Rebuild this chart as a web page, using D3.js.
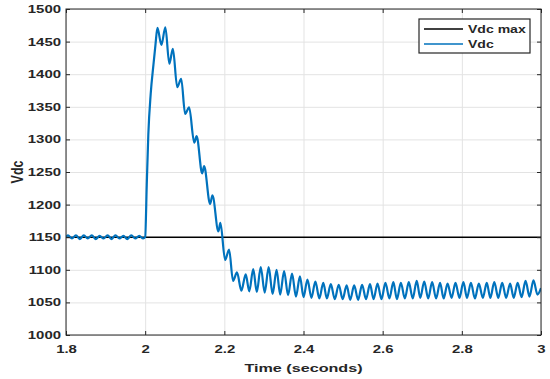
<!DOCTYPE html>
<html>
<head>
<meta charset="utf-8">
<script src="https://cdn.jsdelivr.net/npm/d3@7"></script>
<style>
  body { margin: 0; background: #fff; }
  text { font-family: "Liberation Sans", Arial, sans-serif; font-weight: bold; fill: #262626; }
</style>
</head>
<body>
<svg id="chart" width="550" height="379"></svg>
<script>

// axis ticks
var xTicks = [1.8, 2, 2.2, 2.4, 2.6, 2.8, 3];
var yTicks = [1000, 1050, 1100, 1150, 1200, 1250, 1300, 1350, 1400, 1450, 1500];
var xLabel = "Time (seconds)";
var yLabel = "Vdc";
var legendLabels = ["Vdc max", "Vdc"];

// limit line
var vdcMax = 1150;

// Vdc, [time, value] at the turning points
var rippleBefore = [
  [1.800, 1150], [1.805, 1153], [1.815, 1148], [1.825, 1153], [1.835, 1147],
  [1.845, 1153], [1.855, 1148], [1.865, 1153], [1.875, 1147], [1.885, 1152],
  [1.895, 1148], [1.905, 1153], [1.915, 1147], [1.925, 1153], [1.935, 1148],
  [1.945, 1152], [1.955, 1147], [1.965, 1153], [1.975, 1148], [1.985, 1152],
  [1.995, 1148]
];

var surge = [
  [2.000, 1150], [2.004, 1230], [2.008, 1308], [2.014, 1370], [2.021, 1415],
  [2.026, 1445], [2.031, 1471], [2.041, 1445], [2.051, 1472], [2.061, 1416],
  [2.070, 1439], [2.081, 1380], [2.091, 1393], [2.101, 1339], [2.111, 1349],
  [2.124, 1295], [2.130, 1305], [2.144, 1248], [2.149, 1259], [2.164, 1201],
  [2.170, 1214], [2.185, 1159], [2.190, 1172]
];

var settle = [
  [2.202, 1115], [2.212, 1131], [2.222, 1083], [2.232, 1096], [2.243, 1068],
  [2.254, 1093], [2.263, 1067], [2.273, 1101], [2.282, 1066], [2.292, 1104],
  [2.302, 1065], [2.312, 1104], [2.322, 1063], [2.332, 1100], [2.341, 1062],
  [2.351, 1098], [2.361, 1061], [2.371, 1094], [2.381, 1059], [2.391, 1090],
  [2.400, 1058], [2.410, 1085], [2.420, 1057], [2.430, 1082], [2.440, 1056],
  [2.450, 1080], [2.459, 1056], [2.469, 1078], [2.479, 1055], [2.489, 1077],
  [2.499, 1055], [2.509, 1076], [2.518, 1054], [2.528, 1076], [2.538, 1054],
  [2.548, 1077], [2.558, 1055], [2.568, 1078], [2.577, 1055], [2.587, 1079],
  [2.597, 1055], [2.607, 1080], [2.617, 1056], [2.627, 1081], [2.636, 1055],
  [2.646, 1080], [2.656, 1056], [2.666, 1081], [2.676, 1056], [2.686, 1083],
  [2.695, 1057], [2.705, 1082], [2.715, 1056], [2.725, 1081], [2.735, 1056],
  [2.745, 1080], [2.754, 1056], [2.764, 1079], [2.774, 1057], [2.784, 1080],
  [2.794, 1057], [2.804, 1081], [2.813, 1057], [2.823, 1080], [2.833, 1056],
  [2.843, 1079], [2.853, 1057], [2.863, 1080], [2.872, 1057], [2.882, 1081],
  [2.892, 1057], [2.902, 1080], [2.912, 1057], [2.922, 1079], [2.931, 1057],
  [2.941, 1080], [2.951, 1058], [2.961, 1083], [2.971, 1059], [2.981, 1084],
  [2.991, 1062], [3.000, 1072]
];

var vdc = rippleBefore.concat(surge, settle);

// the picture is stretched sideways, so text gets the same stretch
var sx = 1.37;
var axisColor = "#262626";

var margin = {top: 9, right: 9, bottom: 44, left: 66},
    fullWidth = 550, fullHeight = 379,
    width = fullWidth - margin.left - margin.right,
    height = fullHeight - margin.top - margin.bottom;

var x = d3.scaleLinear().domain([1.8, 3]).range([0, width]);
var y = d3.scaleLinear().domain([1000, 1500]).range([height, 0]);

var svg = d3.select("#chart")
    .append("g")
    .attr("transform", "translate(" + margin.left + "," + margin.top + ")");

svg.append("rect")
    .attr("width", width)
    .attr("height", height)
    .attr("fill", "#fff");

// grid
svg.append("g")
    .attr("class", "grid")
    .attr("transform", "translate(0," + height + ")")
    .call(d3.axisBottom(x).tickValues(xTicks).tickSize(-height).tickFormat(""))
    .call(function (g) { g.select(".domain").remove(); });

svg.append("g")
    .attr("class", "grid")
    .call(d3.axisLeft(y).tickValues(yTicks).tickSize(-width).tickFormat(""))
    .call(function (g) { g.select(".domain").remove(); });

svg.selectAll(".grid line")
    .attr("stroke", "#e3e3e3")
    .attr("stroke-width", 1);

svg.append("clipPath")
    .attr("id", "clip")
    .append("rect")
    .attr("width", width)
    .attr("height", height);

// limit line
svg.append("line")
    .attr("x1", x(1.8))
    .attr("x2", x(3))
    .attr("y1", y(vdcMax))
    .attr("y2", y(vdcMax))
    .attr("stroke", "#000")
    .attr("stroke-width", 1.6);

var line = d3.line()
    .x(function (d) { return x(d[0]); })
    .y(function (d) { return y(d[1]); })
    .curve(d3.curveMonotoneX);

svg.append("path")
    .datum(vdc)
    .attr("clip-path", "url(#clip)")
    .attr("fill", "none")
    .attr("stroke", "#0072BD")
    .attr("stroke-width", 2.2)
    .attr("stroke-linejoin", "round")
    .attr("d", line);

// axes, ticks pointing inward
var xAxis = d3.axisBottom(x).tickValues(xTicks).tickSizeInner(-4).tickSizeOuter(0).tickPadding(10)
    .tickFormat(d3.format("~g"));
var yAxis = d3.axisLeft(y).tickValues(yTicks).tickSizeInner(-4).tickSizeOuter(0).tickPadding(5)
    .tickFormat(d3.format("d"));

svg.append("g")
    .attr("class", "x axis")
    .attr("transform", "translate(0," + height + ")")
    .call(xAxis);

svg.append("g")
    .attr("class", "y axis")
    .call(yAxis);

svg.append("g")
    .attr("class", "axis")
    .call(d3.axisTop(x).tickValues(xTicks).tickSizeInner(-4).tickSizeOuter(0).tickFormat(""));

svg.append("g")
    .attr("class", "axis")
    .attr("transform", "translate(" + width + ",0)")
    .call(d3.axisRight(y).tickValues(yTicks).tickSizeInner(-4).tickSizeOuter(0).tickFormat(""));

svg.selectAll(".axis .domain").remove();
svg.selectAll(".axis line").attr("stroke", axisColor);

svg.selectAll(".axis text")
    .attr("fill", axisColor)
    .style("font-size", "10.9px")
    .each(function () {
        var t = d3.select(this);
        var tx = +t.attr("x") || 0;
        t.attr("x", tx / sx).attr("transform", "scale(" + sx + ",1)");
    });

svg.append("rect")
    .attr("width", width)
    .attr("height", height)
    .attr("fill", "none")
    .attr("stroke", axisColor)
    .attr("stroke-width", 1);

// axis titles
svg.append("text")
    .attr("transform", "translate(" + (width / 2) + "," + (height + 37) + ") scale(" + sx + ",1)")
    .attr("text-anchor", "middle")
    .style("font-size", "11.8px")
    .text(xLabel);

svg.append("text")
    .attr("transform", "translate(" + (-43) + "," + (height / 2) + ") scale(" + sx + ",1) rotate(-90)")
    .attr("text-anchor", "middle")
    .style("font-size", "12.5px")
    .text(yLabel);

// legend
var legend = svg.append("g")
    .attr("transform", "translate(" + (419 - margin.left) + "," + (19 - margin.top) + ")");

legend.append("rect")
    .attr("width", 111)
    .attr("height", 34)
    .attr("fill", "#fff")
    .attr("stroke", axisColor)
    .attr("stroke-width", 1.2);

var legendColors = ["#000", "#0072BD"];

var rows = legend.selectAll("g.row")
    .data(legendLabels)
    .enter().append("g")
    .attr("class", "row")
    .attr("transform", function (d, i) { return "translate(0," + (10 + i * 15) + ")"; });

rows.append("line")
    .attr("x1", 5)
    .attr("x2", 44)
    .attr("stroke", function (d, i) { return legendColors[i]; })
    .attr("stroke-width", 1.5);

rows.append("text")
    .attr("transform", "translate(49,0) scale(1.3,1)")
    .attr("dy", "0.35em")
    .style("font-size", "10.8px")
    .text(function (d) { return d; });

</script>
</body>
</html>
